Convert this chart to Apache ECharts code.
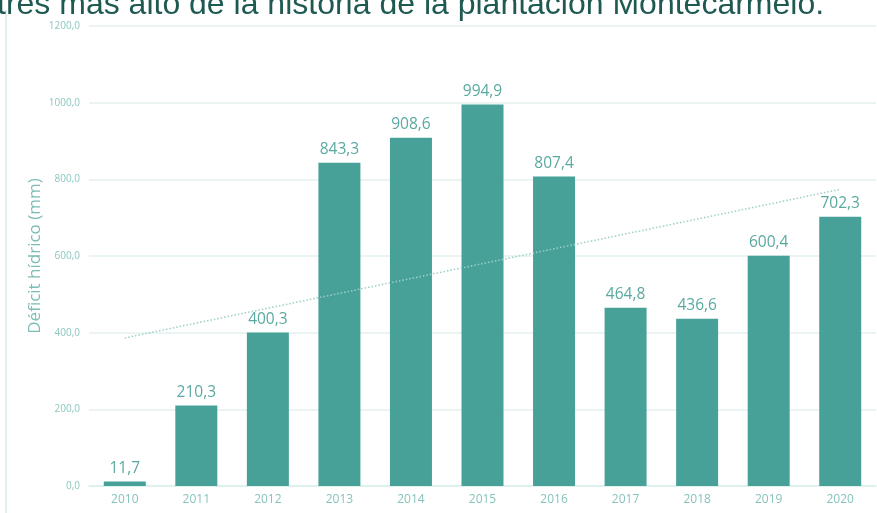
<!DOCTYPE html>
<html>
<head>
<meta charset="utf-8">
<script src="https://cdn.jsdelivr.net/npm/echarts@6/dist/echarts.min.js"></script>
<style>
  html, body { margin: 0; padding: 0; background: #ffffff; }
  #chart { width: 877px; height: 513px; }
</style>
</head>
<body>
<div id="chart"></div>
<script>
// Water deficit per year (mm)
const years = ['2010', '2011', '2012', '2013', '2014', '2015', '2016', '2017', '2018', '2019', '2020'];
const deficit = [11.7, 210.3, 400.3, 843.3, 908.6, 994.9, 807.4, 464.8, 436.6, 600.4, 702.3];
const yTicks = [0, 200, 400, 600, 800, 1000, 1200];
const headline = 'tres más alto de la historia de la plantación Montecarmelo.';
const yName = 'Déficit hídrico (mm)';

// Linear trend (least squares) over the yearly values
function linearTrend(vals) {
  const n = vals.length;
  let sx = 0, sy = 0, sxy = 0, sxx = 0;
  vals.forEach((v, i) => { sx += i; sy += v; sxy += i * v; sxx += i * i; });
  const slope = (n * sxy - sx * sy) / (n * sxx - sx * sx);
  const icpt = (sy - slope * sx) / n;
  return vals.map((_, i) => (i === 0 || i === n - 1) ? icpt + slope * i : null);
}
const trend = linearTrend(deficit);

const fmt = v => v.toFixed(1).replace('.', ',');
const uiFont = '"Open Sans", Lato, sans-serif';

const chart = echarts.init(document.getElementById('chart'));
chart.setOption({
  animation: false,
  backgroundColor: '#ffffff',
  grid: { left: 89, right: 1, top: 26, bottom: 27, containLabel: false },
  graphic: [
    {
      type: 'line',
      shape: { x1: 6, y1: 10, x2: 6, y2: 513 },
      style: { stroke: '#d6ebe8', lineWidth: 1.5 }
    },
    {
      type: 'text',
      left: -3,
      top: -11,
      style: {
        text: headline,
        fill: '#1f5a52',
        font: '32px "Liberation Sans", Arial, sans-serif'
      }
    }
  ],
  xAxis: {
    type: 'category',
    data: years,
    axisLine: { show: true, lineStyle: { color: '#dcefec', width: 1.5 } },
    axisTick: { show: false },
    axisLabel: { color: '#86c3bc', fontSize: 12, fontFamily: uiFont, margin: 8 }
  },
  yAxis: {
    type: 'value',
    min: 0,
    max: 1200,
    interval: 200,
    name: yName,
    nameLocation: 'middle',
    nameGap: 45,
    nameMoveOverlap: false,
    nameTextStyle: { color: '#7dbdb6', fontSize: 17, fontFamily: uiFont },
    axisLine: { show: false },
    axisTick: { show: false },
    splitLine: { lineStyle: { color: '#e2f1ef', width: 1.5 } },
    axisLabel: {
      color: '#8cc7c0',
      fontSize: 10,
      fontFamily: uiFont,
      margin: 9,
      formatter: v => yTicks.includes(v) ? fmt(v) : ''
    }
  },
  series: [
    {
      type: 'bar',
      data: deficit,
      barWidth: 42,
      itemStyle: { color: '#47a199' },
      label: {
        show: true,
        position: 'top',
        distance: 5,
        color: '#5aa9a1',
        fontSize: 15.5,
        fontFamily: uiFont,
        formatter: p => fmt(p.value)
      }
    },
    {
      type: 'line',
      data: trend,
      connectNulls: true,
      symbol: 'none',
      z: 5,
      lineStyle: { color: '#9bcfc8', width: 1.5, type: [1.5, 2] }
    }
  ]
});
</script>
</body>
</html>
